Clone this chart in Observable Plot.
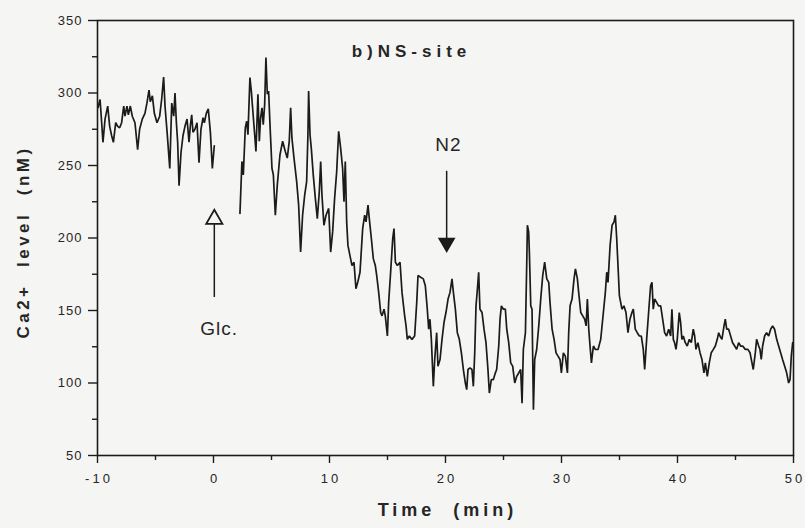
<!DOCTYPE html>
<html><head><meta charset="utf-8">
<script src="https://cdn.jsdelivr.net/npm/d3@7"></script>
<script src="https://cdn.jsdelivr.net/npm/@observablehq/plot@0.6"></script>
<style>
body{margin:0;background:#f5f5f3;}
#chart svg{display:block;background:transparent;}
</style></head><body><div id="chart"></div>
<script>
const xTicks=[-10,0,10,20,30,40,50];
const xMinorTicks=[-5,5,15,25,35,45];
const yTicks=[50,100,150,200,250,300,350];
const yMinorTicks=[75,125,175,225,275,325];
const xLabel="Time  (min)";
const yLabel="Ca2+  level  (nM)";
// [time (min), Ca2+ (nM)] before glucose
const preGlucose=[[-9.95,290],[-9.78,295.5],[-9.64,279.5],[-9.53,266],[-9.35,282],[-9.12,291],[-8.95,277],[-8.78,270.5],[-8.63,266],[-8.43,279.5],[-8.26,277],[-8.09,276],[-7.92,279.5],[-7.74,291],[-7.63,284],[-7.46,291],[-7.34,285],[-7.17,291],[-7.0,284],[-6.77,279.5],[-6.54,261],[-6.37,275],[-6.14,282],[-5.91,286],[-5.74,293],[-5.56,302],[-5.45,294],[-5.27,298],[-5.1,286],[-4.87,279.5],[-4.64,284],[-4.47,295.5],[-4.3,311],[-4.18,291],[-4.0,273],[-3.77,248],[-3.6,293],[-3.43,284],[-3.32,300],[-3.2,279.5],[-3.09,266],[-2.97,236],[-2.8,259],[-2.63,270.5],[-2.46,277],[-2.28,282],[-2.11,266],[-2.0,277],[-1.88,285],[-1.77,273],[-1.6,275],[-1.42,279.5],[-1.25,252],[-1.08,275],[-0.9,283],[-0.79,279.5],[-0.62,286],[-0.45,289],[-0.27,273],[-0.1,248],[0.07,263.6]];
// [time (min), Ca2+ (nM)] after glucose
const postGlucose=[[2.28,216.9],[2.45,252.8],[2.57,243.5],[2.74,275.9],[2.86,280.5],[2.97,271.3],[3.14,310.6],[3.26,301.4],[3.37,289.8],[3.55,271.3],[3.66,259.7],[3.83,299.1],[3.95,266.7],[4.06,282.9],[4.18,289.8],[4.29,278.2],[4.41,292.1],[4.52,324.5],[4.64,299.1],[4.75,301.4],[4.87,278.2],[5.04,248.1],[5.16,243.5],[5.33,215.7],[5.5,236.6],[5.73,257.4],[5.96,266.7],[6.19,259.7],[6.36,255.1],[6.53,266.7],[6.65,289.8],[6.76,269],[6.94,255.1],[7.17,238.9],[7.34,222.7],[7.51,190.3],[7.68,215.7],[7.86,229.6],[8.03,238.9],[8.14,271.3],[8.2,301.4],[8.32,271.3],[8.43,262],[8.6,243.5],[8.78,227.3],[8.95,213.4],[9.12,231.9],[9.24,252.8],[9.35,229.6],[9.52,208.8],[9.7,215.7],[9.93,220.4],[10.1,190.3],[10.27,204.2],[10.44,227.3],[10.62,245.8],[10.79,273.6],[10.96,262],[11.13,248.1],[11.25,225],[11.36,252.8],[11.48,211.1],[11.59,194.9],[11.76,188],[11.94,181],[12.11,183.3],[12.28,165],[12.45,170],
[12.63,176.4],[12.86,206.5],[13.03,215.7],[13.15,211.1],[13.32,222.7],[13.43,213.4],[13.61,199.5],[13.78,185.6],[13.95,181],[14.07,174.1],[14.24,162.5],[14.41,148.6],[14.53,146.3],[14.7,150.9],[14.81,146.3],[14.99,132.4],[15.1,155.6],[15.27,176.4],[15.45,199.5],[15.56,206.5],[15.68,183.3],[15.85,181],[16.08,183.3],[16.25,162.5],[16.48,146.3],[16.6,139.4],[16.71,130.1],[16.88,132.4],[17.11,130.1],[17.34,132.4],[17.52,155.6],[17.63,174.1],[17.86,172.9],[18.09,171.8],[18.26,167.1],[18.43,150.9],[18.55,137.1],[18.66,144],[18.78,130.1],[18.95,97.7],[19.07,116.2],[19.24,134.7],[19.35,111.6],[19.53,116.2],[19.7,130.1],[19.87,141.7],[20.04,148.6],[20.22,157.9],[20.39,162.5],[20.56,171.8],[20.68,162.5],[20.85,150.9],[21.02,134.7],[21.19,130.1],[21.37,120.8],[21.54,109.3],[21.71,100],[21.83,95.4],[21.94,109.3],[22.11,110.4],[22.28,109.3],[22.4,97.7],[22.52,120.8],[22.63,153.2],[22.75,164.8],[22.86,176.4],[22.97,150.9],[23.15,148.6],[23.32,137.1],[23.49,127.8],[23.66,109.3],[23.78,93.1],[23.95,102.3],[24.12,102.3],[24.3,107],
[24.41,109.3],[24.59,125.5],[24.7,144],[24.82,153.2],[24.99,150.9],[25.16,150.9],[25.28,137.1],[25.45,127.8],[25.62,113.9],[25.79,111.6],[25.97,100],[26.14,104.6],[26.31,106.9],[26.48,109.3],[26.6,86.1],[26.71,123.1],[26.89,134.7],[27.0,181],[27.06,208.8],[27.17,204.2],[27.23,190.3],[27.35,153.2],[27.46,150.9],[27.58,81.5],[27.69,116.2],[27.86,123.1],[28.04,139.4],[28.21,157.9],[28.38,174.1],[28.55,183.3],[28.73,171.8],[28.9,169.4],[29.01,155.6],[29.19,137.1],[29.36,130.1],[29.53,120.8],[29.7,118.5],[29.87,116.2],[29.99,107],[30.16,120.8],[30.33,118.5],[30.51,107],[30.62,134.7],[30.74,153.2],[30.91,157.9],[31.08,171.8],[31.2,178.7],[31.37,171.8],[31.48,162.5],[31.66,148.6],[31.83,146.3],[32.0,144],[32.12,139.4],[32.23,157.9],[32.35,137.1],[32.46,125.5],[32.58,113.9],[32.75,125.5],[32.92,123.1],[33.15,123.1],[33.38,130.1],[33.61,148.6],[33.78,162.5],[33.9,176.4],[34.01,169.4],[34.19,194.9],[34.36,208.8],[34.53,211.1],[34.64,215.7],[34.76,199.5],[34.87,181],[34.99,160.2],
[35.21,150.9],[35.38,153.2],[35.56,148.6],[35.73,134.7],[35.9,144],[36.07,148.6],[36.19,150.9],[36.36,137.1],[36.53,134.7],[36.71,132.4],[36.88,132.4],[37.05,123.2],[37.17,109.3],[37.34,130.1],[37.51,148.6],[37.68,167.1],[37.8,169.4],[37.91,150.9],[38.03,157.9],[38.2,155.6],[38.37,153.2],[38.55,153.2],[38.72,144],[38.89,134.7],[39.06,132.4],[39.24,137.1],[39.41,132.4],[39.52,150.9],[39.64,130.1],[39.75,127.8],[39.87,123.2],[39.98,130.1],[40.15,148.6],[40.27,141.7],[40.38,130.1],[40.5,132.4],[40.67,127.8],[40.84,125.5],[41.02,130.1],[41.19,127.8],[41.36,137.1],[41.48,132.4],[41.59,123.2],[41.76,127.8],[41.94,120.9],[42.11,116.2],[42.28,107],[42.4,113.9],[42.57,104.6],[42.74,113.9],[42.91,120.9],[43.09,123.2],[43.26,125.5],[43.43,130.1],[43.55,134.7],[43.66,132.4],[43.83,130.1],[44.01,139.4],[44.12,144],[44.24,137.1],[44.41,137.1],[44.58,132.4],[44.75,127.8],[44.93,125.5],[45.1,123.2],[45.27,127.8],[45.44,125.5],[45.62,125.5],[45.84,123.2],[46.07,123.2],[46.25,120.9],[46.42,113.9],[46.53,109.3],[46.71,120.9],[46.82,130.1],[47.0,125.5],[47.11,123.2],[47.22,116.2],[47.34,125.5],[47.51,132.4],[47.68,134.7],[47.86,132.4],[48.03,137.1],[48.2,139.4],[48.37,137.1],[48.55,130.1],[48.72,125.5],[48.89,120.9],[49.06,116.2],[49.24,111.6],[49.41,107],[49.58,100],[49.7,102.3],[49.81,118.5],[49.93,127.8]];
// annotation texts and positions (data units)
const titleNote=[{label:"b)NS-site",x:16.85,y:328.7}];
const arrowNotes=[{label:"N2",x:20.17,y:264},{label:"Glc.",x:0.39,y:137}];
// arrows: x, shaft start, shaft end, head centre
const glcArrow={x:0.07,y1:159,y2:210,head:213};
const n2Arrow={x:20.1,y1:246,y2:198,head:196.7};

const ink="#1b1b1b";
const txt="#262626";
const plot=Plot.plot({
  width:805,height:528,marginLeft:97,marginRight:12,marginTop:20,marginBottom:73,
  x:{domain:[-10,50]},
  y:{domain:[50,350]},
  style:{fontFamily:"'Liberation Sans', Arial, sans-serif",fontSize:"13px",color:txt,background:"transparent"},
  marks:[
    Plot.frame({stroke:ink,strokeWidth:1.6}),
    Plot.axisX(xTicks,{tickSize:8,tickPadding:10,tickFormat:d=>String(d),label:null,stroke:ink,strokeWidth:1.4}),
    Plot.axisX(xMinorTicks,{tickSize:5,tickFormat:()=>"",label:null,stroke:ink,strokeWidth:1.4}),
    Plot.axisY(yTicks,{tickSize:9,tickPadding:6,tickFormat:d=>String(d),label:null,stroke:ink,strokeWidth:1.4}),
    Plot.axisY(yMinorTicks,{tickSize:5,tickFormat:()=>"",label:null,stroke:ink,strokeWidth:1.4}),
    Plot.line(preGlucose,{x:d=>d[0],y:d=>d[1],stroke:ink,strokeWidth:1.7,strokeLinejoin:"miter"}),
    Plot.line(postGlucose,{x:d=>d[0],y:d=>d[1],stroke:ink,strokeWidth:1.7,strokeLinejoin:"miter"}),
    Plot.ruleX([glcArrow],{x:"x",y1:"y1",y2:"y2",stroke:ink,strokeWidth:1.5}),
    Plot.dot([glcArrow],{x:"x",y:"head",symbol:"triangle",r:6,stroke:ink,strokeWidth:1.8,fill:"none"}),
    Plot.ruleX([n2Arrow],{x:"x",y1:"y1",y2:"y2",stroke:ink,strokeWidth:1.5}),
    Plot.dot([n2Arrow],{x:"x",y:"head",symbol:"triangle",r:5.6,rotate:180,fill:ink,stroke:ink}),
    Plot.text(titleNote,{x:"x",y:"y",text:"label",fontSize:17,fontWeight:"bold",fill:txt,dx:2.5,className:"ttl"}),
    Plot.text(arrowNotes,{x:"x",y:"y",text:"label",fontSize:19,fill:txt,dx:1,className:"anno"}),
    Plot.text([xLabel],{text:d=>d,frameAnchor:"bottom",dy:60,dx:2,fontSize:18,fontWeight:"bold",fill:txt,className:"xlab"}),
    Plot.text([yLabel],{text:d=>d,frameAnchor:"left",textAnchor:"middle",rotate:-90,dx:-74,dy:4,fontSize:17,fontWeight:"bold",fill:txt,className:"ylab"})
  ]
});
document.getElementById("chart").appendChild(plot);
const svg=d3.select(plot);
svg.selectAll('g[aria-label="x-axis tick label"] text').style("letter-spacing","3px").attr("dx","1.5px");
svg.selectAll('g[aria-label="y-axis tick label"] text').style("letter-spacing","1px");
svg.selectAll('.ttl text').style("letter-spacing","5px");
svg.selectAll('.anno text').style("letter-spacing","1px");
svg.selectAll('.xlab text').style("letter-spacing","4px");
svg.selectAll('.ylab text').style("letter-spacing","3.5px");
</script></body></html>
